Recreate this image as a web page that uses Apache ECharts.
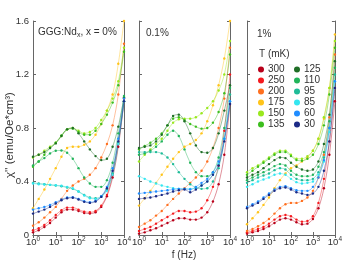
<!DOCTYPE html>
<html><head><meta charset="utf-8">
<script src="https://cdn.jsdelivr.net/npm/echarts@6/dist/echarts.min.js"></script>
<style>html,body{margin:0;padding:0;background:#fff}#c{width:345px;height:267px}</style>
</head><body><div id="c"></div>
<script>
// frequencies (Hz), quarter-decade points
const freq = [1,1.78,3.16,5.62,10,17.8,31.6,56.2,100,178,316,562,1000,1780,3160,5620,10000];
const temps = ['300','250','200','175','150','135','125','110','95','85','60','30'];
const panelNames = ['GGG:Nd{sub|x}, x = 0%', '0.1%', '1%'];
const xTickExp = [0,1,2,3,4];
const yTicks = [0,0.4,0.8,1.2,1.6];

// x = 0%
const a300 = [0.02,0.035,0.06,0.09,0.13,0.17,0.19,0.19,0.18,0.165,0.16,0.17,0.21,0.29,0.43,0.66,1.0];
const a250 = [0.035,0.05,0.075,0.11,0.15,0.185,0.205,0.205,0.19,0.175,0.17,0.18,0.22,0.3,0.45,0.68,1.02];
const a200 = [0.07,0.095,0.13,0.17,0.21,0.27,0.33,0.37,0.40,0.42,0.45,0.5,0.58,0.68,0.82,1.05,1.43];
const a175 = [0.2,0.27,0.34,0.42,0.50,0.585,0.65,0.66,0.66,0.675,0.70,0.75,0.83,0.93,1.05,1.28,1.6];
const a150 = [0.58,0.6,0.63,0.66,0.69,0.74,0.79,0.80,0.78,0.76,0.77,0.8,0.86,0.93,1.02,1.15,1.4];
const a135 = [0.51,0.55,0.6,0.65,0.69,0.745,0.79,0.795,0.77,0.75,0.75,0.78,0.83,0.9,0.99,1.12,1.37];
const a125 = [0.585,0.6,0.62,0.65,0.685,0.74,0.79,0.80,0.76,0.70,0.64,0.59,0.56,0.57,0.66,0.81,1.03];
const a110 = [0.52,0.55,0.575,0.61,0.63,0.632,0.615,0.57,0.5,0.43,0.385,0.36,0.36,0.41,0.54,0.76,1.04];
const a95  = [0.39,0.385,0.38,0.375,0.37,0.365,0.355,0.345,0.325,0.3,0.28,0.275,0.29,0.34,0.46,0.69,1.0];
const a85  = [0.385,0.38,0.378,0.375,0.372,0.368,0.36,0.35,0.325,0.295,0.275,0.27,0.285,0.33,0.45,0.68,1.0];
const a60  = [0.19,0.2,0.21,0.225,0.245,0.265,0.28,0.282,0.27,0.252,0.245,0.255,0.29,0.36,0.5,0.72,1.02];
const a30  = [0.16,0.175,0.19,0.21,0.235,0.26,0.275,0.278,0.265,0.248,0.24,0.25,0.285,0.35,0.48,0.7,1.0];

// x = 0.1%
const b300 = [0.01,0.02,0.035,0.05,0.07,0.09,0.11,0.125,0.125,0.115,0.115,0.13,0.17,0.25,0.38,0.6,0.98];
const b250 = [0.03,0.045,0.06,0.085,0.11,0.135,0.16,0.18,0.18,0.17,0.175,0.2,0.26,0.36,0.52,0.78,1.2];
const b200 = [0.06,0.085,0.11,0.145,0.18,0.225,0.27,0.31,0.35,0.39,0.43,0.48,0.55,0.65,0.8,1.02,1.4];
const b175 = [0.22,0.275,0.33,0.39,0.45,0.51,0.57,0.62,0.66,0.68,0.71,0.76,0.85,0.97,1.12,1.32,1.6];
const b150 = [0.55,0.6,0.64,0.68,0.72,0.78,0.84,0.865,0.87,0.87,0.88,0.91,0.95,1.0,1.08,1.2,1.45];
const b135 = [0.64,0.665,0.69,0.72,0.76,0.82,0.87,0.88,0.86,0.83,0.81,0.795,0.8,0.84,0.92,1.06,1.35];
const b125 = [0.65,0.66,0.67,0.7,0.75,0.82,0.89,0.90,0.85,0.76,0.67,0.62,0.615,0.65,0.76,0.93,1.12];
const b110 = [0.6,0.61,0.63,0.66,0.7,0.75,0.78,0.74,0.64,0.54,0.47,0.44,0.44,0.47,0.58,0.8,1.1];
const b95  = [0.62,0.62,0.62,0.62,0.61,0.58,0.53,0.47,0.42,0.38,0.355,0.345,0.35,0.4,0.5,0.72,1.05];
const b85  = [0.44,0.42,0.40,0.385,0.37,0.36,0.35,0.345,0.345,0.345,0.35,0.37,0.4,0.45,0.53,0.72,1.0];
const b60  = [0.31,0.315,0.32,0.325,0.33,0.335,0.34,0.345,0.345,0.34,0.36,0.39,0.42,0.47,0.55,0.72,1.0];
const b30  = [0.27,0.275,0.28,0.29,0.30,0.31,0.325,0.335,0.34,0.32,0.34,0.37,0.4,0.45,0.52,0.7,0.98];

// x = 1%
const c300 = [0.01,0.02,0.03,0.045,0.065,0.09,0.115,0.125,0.115,0.095,0.08,0.085,0.12,0.2,0.35,0.6,1.0];
const c250 = [0.02,0.03,0.045,0.06,0.085,0.115,0.14,0.15,0.14,0.115,0.1,0.105,0.14,0.24,0.42,0.7,1.1];
const c200 = [0.03,0.045,0.065,0.09,0.12,0.16,0.2,0.23,0.24,0.24,0.255,0.28,0.33,0.43,0.6,0.88,1.35];
const c175 = [0.08,0.125,0.17,0.225,0.28,0.35,0.41,0.46,0.5,0.52,0.55,0.58,0.63,0.72,0.87,1.1,1.5];
const c150 = [0.47,0.5,0.52,0.55,0.58,0.61,0.63,0.63,0.60,0.57,0.57,0.59,0.63,0.72,0.88,1.1,1.45];
const c135 = [0.45,0.48,0.51,0.54,0.57,0.6,0.62,0.62,0.59,0.56,0.555,0.57,0.6,0.68,0.82,1.05,1.4];
const c125 = [0.43,0.45,0.47,0.5,0.53,0.56,0.58,0.575,0.54,0.51,0.49,0.48,0.49,0.55,0.68,0.9,1.3];
const c110 = [0.41,0.43,0.45,0.47,0.49,0.515,0.53,0.52,0.48,0.45,0.44,0.44,0.45,0.51,0.62,0.85,1.25];
const c95  = [0.39,0.41,0.43,0.445,0.46,0.485,0.5,0.49,0.45,0.42,0.41,0.41,0.42,0.47,0.58,0.8,1.2];
const c85  = [0.36,0.38,0.4,0.415,0.43,0.45,0.46,0.45,0.42,0.395,0.385,0.39,0.4,0.45,0.55,0.77,1.15];
const c60  = [0.21,0.23,0.25,0.28,0.31,0.34,0.36,0.365,0.35,0.335,0.33,0.33,0.36,0.43,0.56,0.8,1.15];
const c30  = [0.2,0.22,0.24,0.27,0.3,0.33,0.35,0.355,0.34,0.32,0.31,0.3,0.31,0.36,0.48,0.7,1.1];

const panel0 = [a300,a250,a200,a175,a150,a135,a125,a110,a95,a85,a60,a30];
const panel1 = [b300,b250,b200,b175,b150,b135,b125,b110,b95,b85,b60,b30];
const panel2 = [c300,c250,c200,c175,c150,c135,c125,c110,c95,c85,c60,c30];
const panels = [panel0, panel1, panel2];

// styles
const colors = ['#b8001a','#f51a1e','#ff7020','#ffc41a','#9ae81e','#3cbe1e','#1f6e26','#22b45a','#1fbc98','#34e6f0','#1f8cff','#1c2a86'];
const gridLeft = [33, 139, 247];
const FONT = 'Liberation Sans, Arial, sans-serif';
const axisCol = '#666';
const txtCol = '#333';

const chart = echarts.init(document.getElementById('c'), null, {renderer:'canvas'});
const grids = [], xAxes = [], yAxes = [], series = [];
gridLeft.forEach((l, i) => {
  grids.push({left: l, top: 21, width: 91, height: 214, containLabel: false});
  const common = {type:'log', logBase:10, min:1, max:10000, gridIndex:i,
    axisLine:{show:true, lineStyle:{color:axisCol, width:1}},
    axisTick:{show:true, inside:true, length:3, lineStyle:{color:axisCol}},
    splitLine:{show:false}, minorTick:{show:false}};
  xAxes.push(Object.assign({}, common, {position:'bottom',
    axisLabel:{show:true, margin:1, color:txtCol, fontFamily:FONT, fontSize:9.5,
      formatter: v => '10{s|' + xTickExp[Math.round(Math.log10(v))] + '}',
      rich:{s:{fontSize:6.5, fontFamily:FONT, color:txtCol, verticalAlign:'bottom', padding:[0,0,6,0]}}}}));
  xAxes.push(Object.assign({}, common, {position:'top', axisLabel:{show:false}}));
  const ycommon = {type:'value', min:0, max:1.6, interval:0.4, gridIndex:i,
    axisLine:{show:true, lineStyle:{color:axisCol, width:1}},
    axisTick:{show:true, inside:true, length:3, lineStyle:{color:axisCol}},
    splitLine:{show:false}};
  yAxes.push(Object.assign({}, ycommon, {position:'left',
    axisLabel:{show: i===0, margin:4, color:txtCol, fontFamily:FONT, fontSize:9.5,
      formatter: v => yTicks.includes(+v.toFixed(1)) ? String(+v.toFixed(1)) : ''}}));
  yAxes.push(Object.assign({}, ycommon, {position:'right', axisLabel:{show:false}}));
  panels[i].forEach((arr, k) => {
    series.push({
      type:'line', name: temps[k], xAxisIndex: 2*i, yAxisIndex: 2*i,
      data: freq.map((f, j) => [f, arr[j]]),
      smooth: 0.35, symbol:'circle', symbolSize:2.4, showSymbol:true,
      lineStyle:{color:colors[k], width:0.8, opacity:0.55},
      itemStyle:{color:colors[k]},
      clip:true, z: 2
    });
  });
});

const legendBase = {orient:'vertical', icon:'circle', itemWidth:6, itemHeight:6, itemGap:0,
  padding:0, selectedMode:false, top:64,
  textStyle:{fontSize:10, lineHeight:11, color:txtCol, fontFamily:FONT, padding:[0,0,0,-1]}};

chart.setOption({
  animation:false,
  backgroundColor:'#fff',
  grid: grids, xAxis: xAxes, yAxis: yAxes, series: series,
  legend: [
    Object.assign({}, legendBase, {left:258, data: temps.slice(0,6)}),
    Object.assign({}, legendBase, {left:294, data: temps.slice(6)})
  ],
  graphic: [
    {type:'text', left:38, top:27, style:{text: panelNames[0], fill:txtCol, font:'10px '+FONT,
      rich:{sub:{fontSize:7, fontFamily:FONT, fill:txtCol, verticalAlign:'top', padding:[6,0,0,0]}}}},
    {type:'text', left:146, top:28, style:{text: panelNames[1], fill:txtCol, font:'10px '+FONT}},
    {type:'text', left:257, top:29, style:{text: panelNames[2], fill:txtCol, font:'10px '+FONT}},
    {type:'text', left:259, top:49, style:{text:'T (mK)', fill:txtCol, font:'10px '+FONT}},
    {type:'text', x:10, y:135, rotation:Math.PI/2, style:{text:"χ'' (emu/Oe*cm³)", fill:txtCol,
      font:'11.5px '+FONT, align:'center', verticalAlign:'middle'}},
    {type:'text', x:184, y:255, style:{text:'f (Hz)', fill:txtCol, font:'10px '+FONT, align:'center', verticalAlign:'middle'}}
  ]
});
</script></body></html>
